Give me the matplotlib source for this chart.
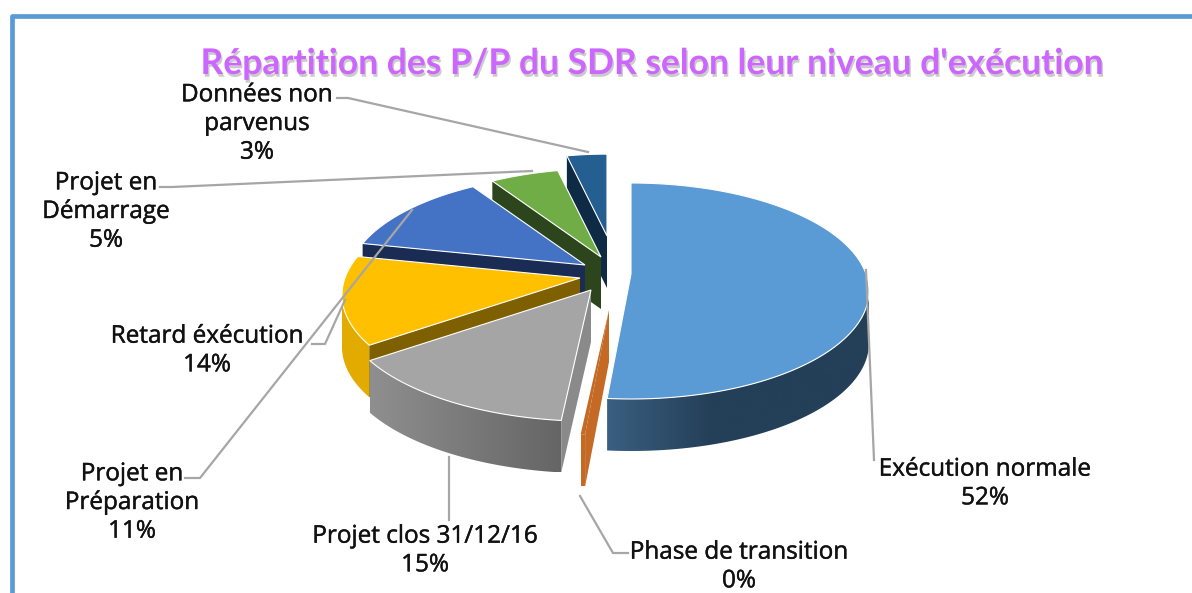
import matplotlib
matplotlib.use('Agg')
import matplotlib.pyplot as plt
import matplotlib.patheffects as pe
from matplotlib.colors import to_rgb
from matplotlib.patches import Polygon
import numpy as np

# Values (0% slice is a thin sliver)
categories = ['Exécution normale', 'Phase de transition', 'Projet clos 31/12/16', 'Retard éxécution',
              'Projet en\nPréparation', 'Projet en\nDémarrage', 'Données non\nparvenus']
values = [51.6, 0.3, 15.4, 13.5, 11.4, 4.8, 3.0]
title = "Répartition des P/P du SDR selon leur niveau d'exécution"

top_colors = ['#5B9BD5', '#C46A24', '#A5A5A5', '#FFC000', '#4472C4', '#70AD47', '#255E91']
cut_colors = ['#2F5474', '#C46A24', '#8A8A8A', '#7F6000', '#1A2C54', '#2D451C', '#0F2A44']
arc_left = ['#3A5F80', '#C46A24', '#8F8F8F', '#E3AB00', '#1A2C54', '#2D451C', '#0F2A44']
arc_right = ['#243F58', '#C46A24', '#656565', '#E3AB00', '#1A2C54', '#2D451C', '#0F2A44']

# Where each exploded slice sits in the picture, pixels
apex_x = [631, 609, 591, 580, 585, 601, 607]
apex_y = [274, 310, 290, 278, 265, 257, 236]
slice_scale = [1.0, 1.0, 1.05, 1.0, 1.0, 0.97, 0.9]
draw_order = [6, 5, 4, 3, 0, 1, 2]

RX, RY, DROP, DEPTH = 238, 108, 17, 52

label_x = [985, 739, 425, 207, 132, 106, 257]
label_y = [484, 567, 551, 351, 503, 212, 124]

leaders = [
    ([866, 874], [270, 460]),
    ([580, 613, 628], [496, 553, 553]),
    ([449, 449], [457, 520]),
    ([345, 325, 312], [300, 344, 344]),
    ([412, 200, 185], [210, 478, 478]),
    ([532, 172, 160], [171, 187, 187]),
    ([588, 348, 337], [152, 98, 98]),
]

fig, ax = plt.subplots(figsize=(11.92, 5.93), dpi=100)
ax.set_position([0, 0, 1, 1])
ax.axis('off')

# Chart frame, only top and left show
ax.plot([11.5, 11.5, 1192], [593, 15.5, 15.5], color='#5B9BD5', lw=3.4, solid_joinstyle='round', zorder=1)

shares = np.array(values) / sum(values) * 360
starts = np.concatenate([[0], np.cumsum(shares)[:-1]])


def rim(i, deg):
    t = np.radians(deg)
    s = slice_scale[i]
    return apex_x[i] + RX * s * np.sin(t), apex_y[i] + (DROP - RY * np.cos(t)) * s


z = 2
for i in draw_order:
    a0, a1 = starts[i], starts[i] + shares[i]
    # Side along the outer edge, only the part facing us, shaded left to right
    lo, hi = max(a0, 90), min(a1, 270)
    if hi > lo:
        arc = np.linspace(lo, hi, 100)
        xs, ys = rim(i, arc)
        pts = np.column_stack([np.r_[xs, xs[::-1]], np.r_[ys, ys[::-1] + DEPTH]])
        side = Polygon(pts, fc='none', ec='none', zorder=z)
        ax.add_patch(side)
        f = np.linspace(0, 1, 256)
        if i == 0:
            f = np.clip(f / 0.4, 0, 1)
        c_l, c_r = np.array(to_rgb(arc_left[i])), np.array(to_rgb(arc_right[i]))
        grad = (c_l + (c_r - c_l) * f[:, None])[None, :, :]
        im = ax.imshow(grad, extent=(xs.min(), xs.max(), ys.max() + DEPTH, ys.min()), aspect='auto', zorder=z)
        im.set_clip_path(side)
        z += 1
    # Cut face on the starting edge
    if a0 > 0:
        cx, cy = rim(i, a0)
        ax.add_patch(Polygon([(apex_x[i], apex_y[i]), (cx, cy), (cx, cy + DEPTH), (apex_x[i], apex_y[i] + DEPTH)],
                             fc=cut_colors[i], ec='none', zorder=z))
        z += 1
    # Top face
    arc = np.linspace(a0, a1, 120)
    xs, ys = rim(i, arc)
    pts = np.column_stack([np.r_[apex_x[i], xs], np.r_[apex_y[i], ys]])
    ax.add_patch(Polygon(pts, fc=top_colors[i], ec='white' if shares[i] > 2 else 'none', lw=0.8, zorder=z))
    z += 1

ax.set_xlim(0, 1192)
ax.set_ylim(593, 0)

for xs, ys in leaders:
    ax.plot(xs, ys, color='#A6A6A6', lw=1.6, zorder=50)

for i, name in enumerate(categories):
    ax.text(label_x[i], label_y[i], f'{name}\n{round(values[i])}%', ha='center', va='center',
            family='Open Sans', fontsize=17.5, color='#111111', linespacing=1.26, zorder=60,
            path_effects=[pe.withStroke(linewidth=0.3, foreground='#111111')])

ax.text(652, 64, title, ha='center', va='center', family='Lato', fontweight='bold', fontsize=25.5,
        color='#CC66FF', zorder=60,
        path_effects=[pe.SimplePatchShadow(offset=(1, -2), shadow_rgbFace='#999999', alpha=0.5), pe.Normal()])

plt.savefig('out.png', dpi=100)
